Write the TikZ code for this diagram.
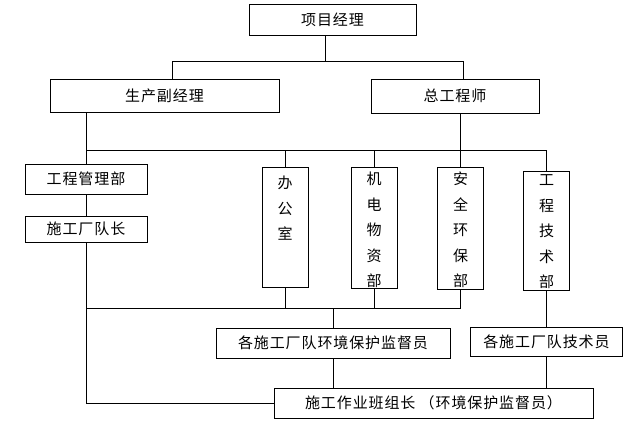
\documentclass[tikz,border=0pt]{standalone}
\usepackage{fontspec}
\newfontfamily\cjk[LetterSpace=6.0]{Noto Sans CJK SC}
\begin{document}
\begin{tikzpicture}[x=1pt,y=-1pt,line width=0.9pt,
  box/.style={draw,inner sep=0pt,font=\cjk\fontsize{15}{25}\selectfont},
  tallbox/.style={draw,inner sep=0pt,minimum width=46pt},
  vtext/.style={anchor=north,align=center,inner sep=0pt,font=\cjk\fontsize{15}{25.5}\selectfont}]
  \useasboundingbox (0,0) rectangle (624,424);
  \node[box,minimum width=167pt,minimum height=31pt] (pm) at (332.5,19.5) {项目经理};
  \node[box,minimum width=229pt,minimum height=33pt] (vp) at (164.5,95.5) {生产副经理};
  \node[box,minimum width=168pt,minimum height=34pt] (ce) at (455,96) {总工程师};
  \node[box,minimum width=122pt,minimum height=30pt] (gm) at (86,179) {工程管理部};
  \node[box,minimum width=122pt,minimum height=26pt] (tl) at (86,229) {施工厂队长};
  \node[tallbox,minimum height=120pt] (off) at (285,227) {};
  \node[vtext] (offt) at ([yshift=-9pt]off.north) {办\\公\\室};
  \node[tallbox,minimum height=121pt] (me) at (374,227.5) {};
  \node[vtext] (met) at ([yshift=-5pt]me.north) {机\\电\\物\\资\\部};
  \node[tallbox,minimum height=122pt] (se) at (460.5,228) {};
  \node[vtext] (set) at ([yshift=-5pt]se.north) {安\\全\\环\\保\\部};
  \node[tallbox,minimum height=119pt] (te) at (546.5,230.5) {};
  \node[vtext] (tet) at ([yshift=-4pt]te.north) {工\\程\\技\\术\\部};
  \node[box,minimum width=234pt,minimum height=30pt] (es) at (333,343) {各施工厂队环境保护监督员};
  \node[box,minimum width=152pt,minimum height=29pt] (ts) at (546.5,341.5) {各施工厂队技术员};
  \node[box,minimum width=319pt,minimum height=30pt] (wl) at (433.5,403) {施工作业班组长\ （环境保护监督员）};
  \coordinate (j1) at (325,61);
  \coordinate (a1) at (172,61);
  \coordinate (a2) at (463,61);
  \draw (pm.south -| j1) -- (j1);
  \draw (a1 |- vp.north) -- (a1) -- (a2) -- (a2 |- ce.north);
  \coordinate (b1) at (86,150);
  \coordinate (b2) at (546,150);
  \draw (vp.south -| b1) -- (gm.north);
  \draw (b1) -- (b2) -- (b2 |- te.north);
  \draw (off.north) -- (off.north |- b1);
  \draw (me.north) -- (me.north |- b1);
  \draw (ce.south -| se.north) -- (se.north);
  \draw (gm.south) -- (tl.north);
  \coordinate (c1) at (86,308);
  \draw (tl.south) -- (tl.south |- wl.west) -- (wl.west);
  \draw (c1) -- (c1 -| se.south);
  \draw (off.south) -- (off.south |- c1);
  \draw (me.south) -- (me.south |- c1);
  \draw (se.south) -- (se.south |- c1);
  \draw (es.north) -- (es.north |- c1);
  \draw (es.south) -- (es.south |- wl.north);
  \draw (b2 |- te.south) -- (b2 |- ts.north);
  \draw (b2 |- ts.south) -- (b2 |- wl.north);
\end{tikzpicture}
\end{document}
